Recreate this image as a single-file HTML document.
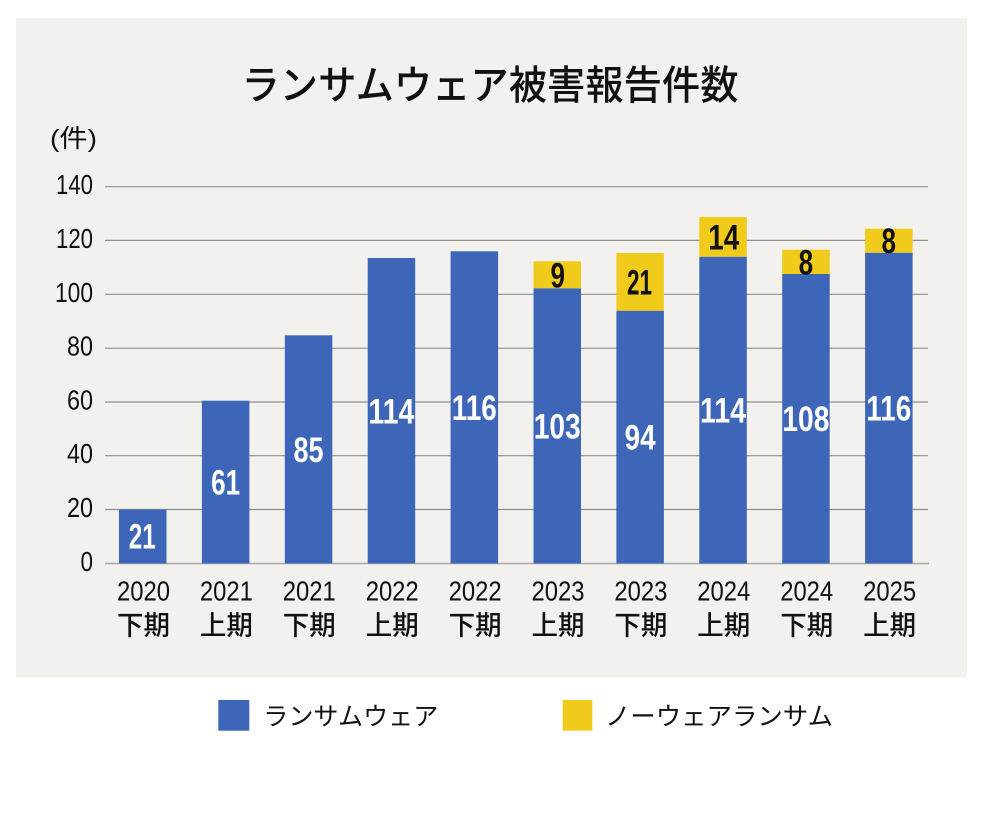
<!DOCTYPE html>
<html>
<head>
<meta charset="utf-8">
<style>
  html, body { margin: 0; padding: 0; background: #ffffff; }
  body { width: 1004px; height: 822px; overflow: hidden; }
  svg { display: block; }
  .num { font-family: "Liberation Sans Narrow", "Liberation Sans", sans-serif; }
  .jp { font-family: "Liberation Sans", "Noto Sans CJK JP", sans-serif; }
</style>
</head>
<body>
<svg width="1004" height="822" viewBox="0 0 1004 822" xmlns="http://www.w3.org/2000/svg">
  <!-- panel -->
  <rect x="16" y="18" width="951" height="659.5" fill="#f2f1ed"/>

  <!-- title -->
  <text x="241.5" y="99" class="jp" font-size="40" font-weight="500" fill="#111" textLength="497" lengthAdjust="spacingAndGlyphs">ランサムウェア被害報告件数</text>

  <!-- unit -->
  <text x="50" y="147" class="jp" font-size="25" fill="#111" textLength="47" lengthAdjust="spacingAndGlyphs">(件)</text>

  <!-- gridlines -->
  <g stroke="#8e8e8e" stroke-width="1.2">
    <line x1="105" x2="928" y1="186.7" y2="186.7"/>
    <line x1="105" x2="928" y1="240.4" y2="240.4"/>
    <line x1="105" x2="928" y1="294.3" y2="294.3"/>
    <line x1="105" x2="928" y1="348.2" y2="348.2"/>
    <line x1="105" x2="928" y1="402" y2="402"/>
    <line x1="105" x2="928" y1="455.7" y2="455.7"/>
    <line x1="105" x2="928" y1="509.5" y2="509.5"/>
  </g>
  <line x1="105" x2="929" y1="563.5" y2="563.5" stroke="#a9a9a9" stroke-width="1.6"/>

  <!-- y tick labels -->
  <g class="num" font-size="28" fill="#111" text-anchor="end">
    <text x="93" y="194.2" textLength="37" lengthAdjust="spacingAndGlyphs">140</text>
    <text x="93" y="247.9" textLength="37" lengthAdjust="spacingAndGlyphs">120</text>
    <text x="93" y="301.8" textLength="38" lengthAdjust="spacingAndGlyphs">100</text>
    <text x="93" y="355.7" textLength="26" lengthAdjust="spacingAndGlyphs">80</text>
    <text x="93" y="409.5" textLength="26" lengthAdjust="spacingAndGlyphs">60</text>
    <text x="93" y="463.2" textLength="26" lengthAdjust="spacingAndGlyphs">40</text>
    <text x="93" y="517" textLength="26" lengthAdjust="spacingAndGlyphs">20</text>
    <text x="93" y="571" textLength="12.5" lengthAdjust="spacingAndGlyphs">0</text>
  </g>

  <!-- bars: blue -->
  <g fill="#3d66b8">
    <rect x="119"   y="509.5" width="47.5" height="54"/>
    <rect x="201.9" y="400.7" width="47.5" height="162.8"/>
    <rect x="284.8" y="335.3" width="47.5" height="228.2"/>
    <rect x="367.7" y="258"   width="47.5" height="305.5"/>
    <rect x="450.6" y="251.3" width="47.5" height="312.2"/>
    <rect x="533.5" y="288.3" width="47.5" height="275.2"/>
    <rect x="616.4" y="310.7" width="47.5" height="252.8"/>
    <rect x="699.3" y="256.7" width="47.5" height="306.8"/>
    <rect x="782.2" y="274"   width="47.5" height="289.5"/>
    <rect x="865.1" y="252.7" width="47.5" height="310.8"/>
  </g>
  <!-- bars: yellow -->
  <g fill="#f1cb1b">
    <rect x="533.5" y="261.3" width="47.5" height="27"/>
    <rect x="616.4" y="253"   width="47.5" height="57.7"/>
    <rect x="699.3" y="217"   width="47.5" height="39.7"/>
    <rect x="782.2" y="249.7" width="47.5" height="24.3"/>
    <rect x="865.1" y="228.7" width="47.5" height="24"/>
  </g>

  <!-- blue value labels -->
  <g class="num" font-size="35" font-weight="700" fill="#ffffff" text-anchor="middle">
    <text x="142.2" y="548.5" textLength="27" lengthAdjust="spacingAndGlyphs">21</text>
    <text x="225.6" y="494.5" textLength="29" lengthAdjust="spacingAndGlyphs">61</text>
    <text x="308.5" y="461.8" textLength="30" lengthAdjust="spacingAndGlyphs">85</text>
    <text x="391.4" y="423.3" textLength="46" lengthAdjust="spacingAndGlyphs">114</text>
    <text x="474.3" y="419.9" textLength="45" lengthAdjust="spacingAndGlyphs">116</text>
    <text x="557.2" y="438.4" textLength="47" lengthAdjust="spacingAndGlyphs">103</text>
    <text x="640.1" y="449.6" textLength="31" lengthAdjust="spacingAndGlyphs">94</text>
    <text x="723"   y="422.6" textLength="46" lengthAdjust="spacingAndGlyphs">114</text>
    <text x="805.9" y="431.2" textLength="47" lengthAdjust="spacingAndGlyphs">108</text>
    <text x="888.8" y="420.6" textLength="45" lengthAdjust="spacingAndGlyphs">116</text>
  </g>

  <!-- yellow value labels -->
  <g class="num" font-size="35" font-weight="700" fill="#111" text-anchor="middle">
    <text x="557.8" y="287.3" textLength="14.5" lengthAdjust="spacingAndGlyphs">9</text>
    <text x="639.5" y="294.4" textLength="25" lengthAdjust="spacingAndGlyphs">21</text>
    <text x="723.8" y="249.4" textLength="31" lengthAdjust="spacingAndGlyphs">14</text>
    <text x="805.9" y="274.4" textLength="14.5" lengthAdjust="spacingAndGlyphs">8</text>
    <text x="888.8" y="253.2" textLength="14.5" lengthAdjust="spacingAndGlyphs">8</text>
  </g>

  <!-- x labels: years -->
  <g class="num" font-size="28" fill="#111" text-anchor="middle">
    <text x="143.5" y="600.7" textLength="53" lengthAdjust="spacingAndGlyphs">2020</text>
    <text x="226.4" y="600.7" textLength="53" lengthAdjust="spacingAndGlyphs">2021</text>
    <text x="309.3" y="600.7" textLength="53" lengthAdjust="spacingAndGlyphs">2021</text>
    <text x="392.2" y="600.7" textLength="53" lengthAdjust="spacingAndGlyphs">2022</text>
    <text x="475.1" y="600.7" textLength="53" lengthAdjust="spacingAndGlyphs">2022</text>
    <text x="558"   y="600.7" textLength="53" lengthAdjust="spacingAndGlyphs">2023</text>
    <text x="640.9" y="600.7" textLength="53" lengthAdjust="spacingAndGlyphs">2023</text>
    <text x="723.8" y="600.7" textLength="53" lengthAdjust="spacingAndGlyphs">2024</text>
    <text x="806.7" y="600.7" textLength="53" lengthAdjust="spacingAndGlyphs">2024</text>
    <text x="889.6" y="600.7" textLength="53" lengthAdjust="spacingAndGlyphs">2025</text>
  </g>
  <!-- x labels: halves -->
  <g class="jp" font-size="27" font-weight="500" fill="#111" text-anchor="middle">
    <text x="143.5" y="635" textLength="53" lengthAdjust="spacingAndGlyphs">下期</text>
    <text x="226.4" y="635" textLength="53" lengthAdjust="spacingAndGlyphs">上期</text>
    <text x="309.3" y="635" textLength="53" lengthAdjust="spacingAndGlyphs">下期</text>
    <text x="392.2" y="635" textLength="53" lengthAdjust="spacingAndGlyphs">上期</text>
    <text x="475.1" y="635" textLength="53" lengthAdjust="spacingAndGlyphs">下期</text>
    <text x="558"   y="635" textLength="53" lengthAdjust="spacingAndGlyphs">上期</text>
    <text x="640.9" y="635" textLength="53" lengthAdjust="spacingAndGlyphs">下期</text>
    <text x="723.8" y="635" textLength="53" lengthAdjust="spacingAndGlyphs">上期</text>
    <text x="806.7" y="635" textLength="53" lengthAdjust="spacingAndGlyphs">下期</text>
    <text x="889.6" y="635" textLength="53" lengthAdjust="spacingAndGlyphs">上期</text>
  </g>

  <!-- legend -->
  <rect x="218.3" y="700" width="31" height="30.7" fill="#3d66b8"/>
  <text x="263.3" y="725" class="jp" font-size="25" fill="#111" textLength="175" lengthAdjust="spacingAndGlyphs">ランサムウェア</text>
  <rect x="562.7" y="700" width="29.6" height="30.7" fill="#f1cb1b"/>
  <text x="605" y="725" class="jp" font-size="25" fill="#111" textLength="228" lengthAdjust="spacingAndGlyphs">ノーウェアランサム</text>
</svg>
</body>
</html>
